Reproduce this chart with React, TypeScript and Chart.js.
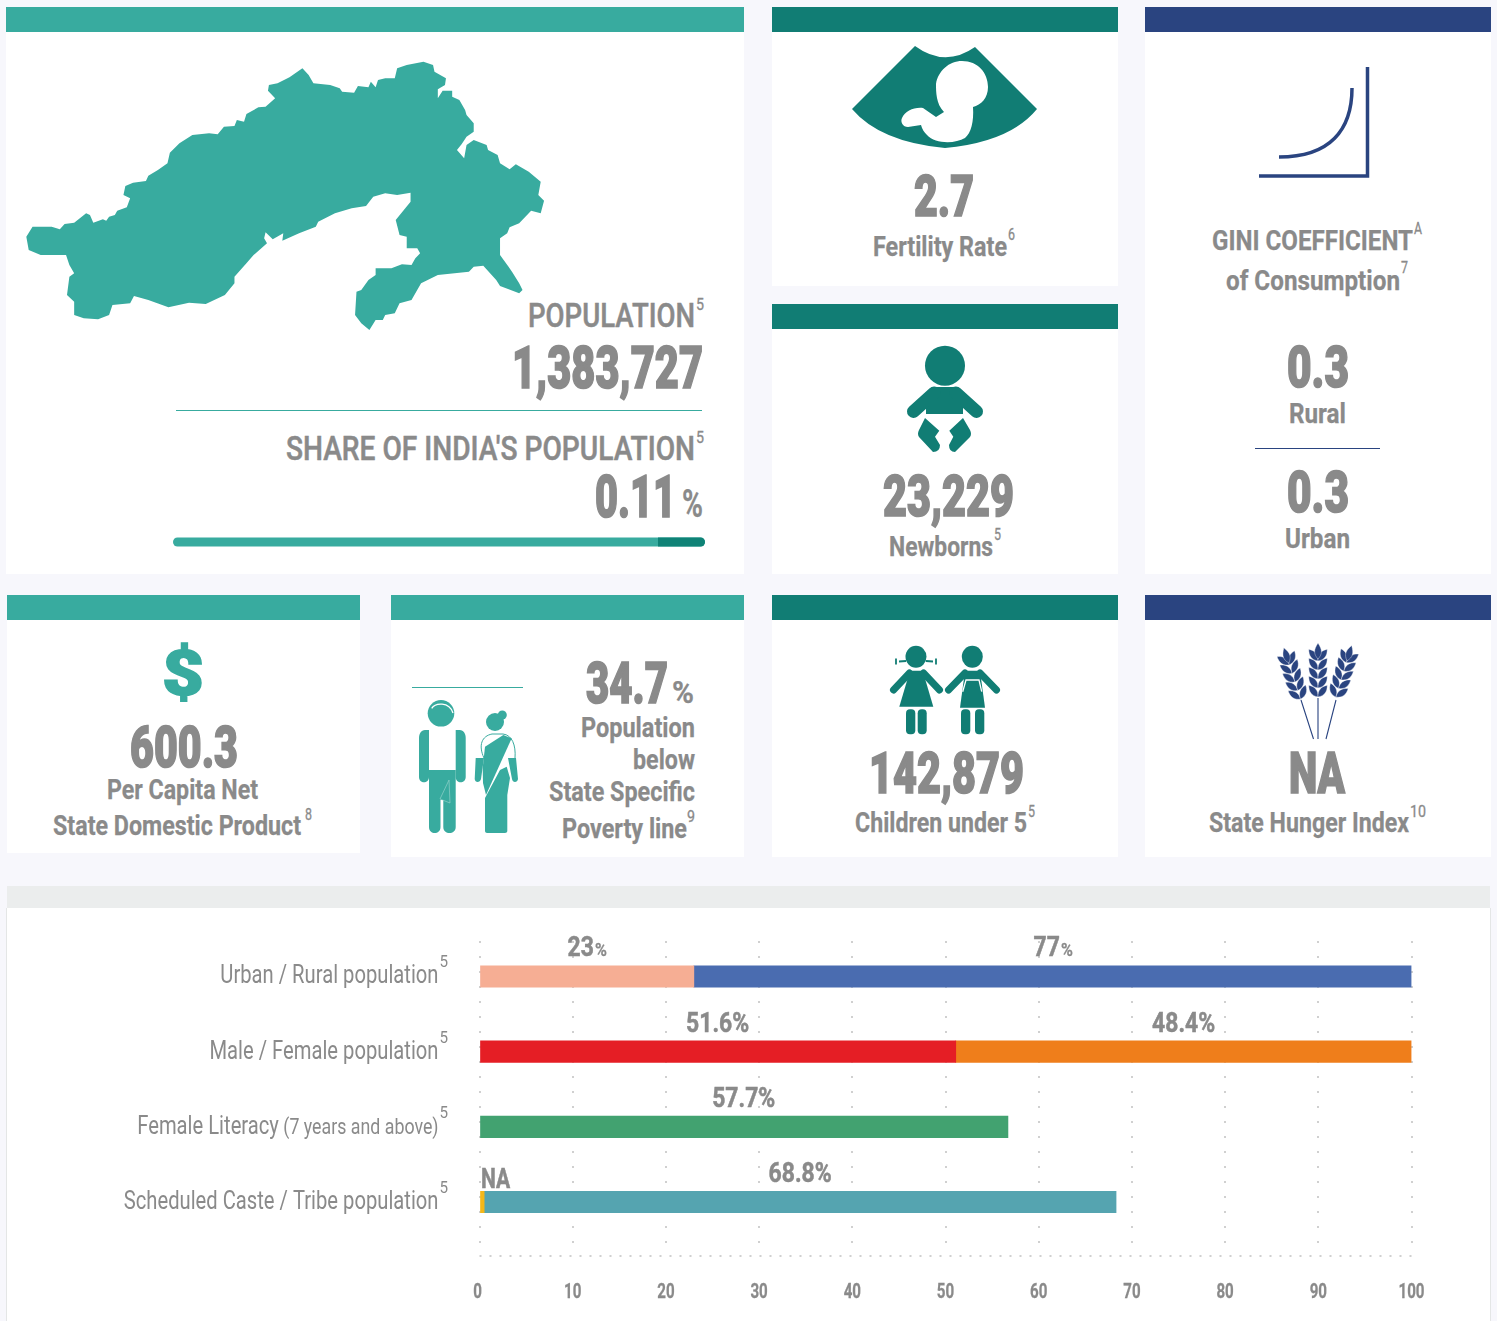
import React, { useEffect, useRef } from "react";
import { Chart, registerables } from "chart.js";

Chart.register(...registerables);

const categories = ["Urban / Rural population", "Male / Female population", "Female Literacy", "Scheduled Caste / Tribe population"];
const categoryNotes = ["", "", " (7 years and above)", ""];
const firstSegment = [23, 51.1, 56.7, 0.5];
const secondSegment = [77, 48.9, null, 67.8];
const firstColors = ["#f6ae94", "#e51e25", "#42a270", "#f4b718"];
const secondColors = ["#4a6cb0", "#ef7e1b", "#42a270", "#55a4b0"];
const firstLabels = ["23%", "51.6%", "57.7%", "NA"];
const secondLabels = ["77%", "48.4%", "", "68.8%"];
const footnoteMark = "5";
const xTicks = [0, 10, 20, 30, 40, 50, 60, 70, 80, 90, 100];

const TEAL = "#38ab9f";
const DARK = "#117d74";
const NAVY = "#2a4480";
const GREY = "#8a8a8a";
const FONT = "Roboto";

const cards = [
  [6, 7, 738, 567, TEAL, 25], [772, 7, 346, 279, DARK, 25], [772, 304, 346, 270, DARK, 25], [1145, 7, 346, 567, NAVY, 25],
  [7, 595, 353, 258, TEAL, 25], [391, 595, 353, 262, TEAL, 25], [772, 595, 346, 262, DARK, 25], [1145, 595, 346, 262, NAVY, 25],
  [7, 886, 1483, 435, "#ebeded", 22],
];

// text, left, right, baseline, size, weight
const texts: [string, number, number, number, number, number][] = [
  ["POPULATION", 528, 695, 327, 33, 500], ["5", 696, 704, 310, 16, 400],
  ["1,383,727", 512, 703, 388, 60, 900],
  ["SHARE OF INDIA'S POPULATION", 286, 695, 460, 33, 500], ["5", 696, 704, 443, 16, 400],
  ["0.11", 595, 676, 517, 60, 900], ["%", 682, 703, 517, 38, 700],
  ["2.7", 914, 974, 216, 58, 900], ["Fertility Rate", 873, 1007, 256, 28, 700], ["6", 1008, 1015, 240, 16, 400],
  ["23,229", 883, 1014, 516, 58, 900], ["Newborns", 889, 993, 556, 28, 700], ["5", 994, 1001, 540, 16, 400],
  ["GINI COEFFICIENT", 1212, 1413, 250, 28, 700], ["A", 1414, 1422, 234, 16, 400],
  ["of Consumption", 1226, 1400, 290, 28, 700], ["7", 1401, 1408, 273, 16, 400],
  ["0.3", 1287, 1349, 387, 58, 900], ["Rural", 1289, 1346, 423, 28, 700],
  ["0.3", 1287, 1349, 512, 58, 900], ["Urban", 1285, 1350, 548, 28, 700],
  ["600.3", 130, 238, 767, 58, 900], ["Per Capita Net", 107, 258, 799, 28, 700],
  ["State Domestic Product", 53, 301, 835, 28, 700], ["8", 305, 312, 820, 16, 400],
  ["34.7", 586, 668, 703, 58, 900], ["%", 672, 694, 703, 32, 700],
  ["Population", 581, 695, 737, 28, 700], ["below", 633, 695, 769, 28, 700],
  ["State Specific", 549, 695, 801, 28, 700], ["Poverty line", 562, 687, 838, 28, 700], ["9", 687, 695, 822, 16, 400],
  ["142,879", 869, 1024, 793, 58, 900], ["Children under 5", 855, 1027, 832, 28, 700], ["5", 1028, 1035, 817, 16, 400],
  ["NA", 1289, 1345, 793, 58, 900], ["State Hunger Index", 1209, 1409, 832, 28, 700], ["10", 1410, 1426, 817, 16, 400],
];

const strokeFor: Record<number, number> = { 900: 1.7, 700: 0.25, 500: 0.5, 400: 0.3 };

const mapOutline = "55,710 68,680 108,680 125,688 135,672 155,668 180,640 188,645 195,668 215,658 222,662 228,650 240,645 245,632 265,622 272,595 258,585 262,558 278,548 305,543 310,527 330,510 350,490 355,458 375,430 402,405 437,400 455,403 468,380 490,378 495,360 510,365 515,342 540,322 555,320 575,295 560,272 562,255 580,250 605,232 632,205 645,225 655,250 690,255 710,265 715,275 740,278 748,258 770,262 775,245 785,262 790,240 805,235 825,235 830,205 850,195 885,185 905,195 908,215 932,235 930,255 915,268 915,295 925,272 945,272 945,290 960,300 972,330 975,345 990,370 990,395 975,410 965,432 955,450 970,475 975,435 990,420 1017,435 1020,450 1040,465 1045,490 1065,508 1078,493 1105,515 1130,545 1125,585 1137,602 1130,640 1110,632 1085,670 1065,682 1060,700 1045,715 1045,765 1070,815 1085,850 1092,870 1085,880 1045,858 1037,840 1010,797 990,800 980,815 915,825 880,850 860,900 835,910 825,940 805,945 800,960 785,960 772,990 755,970 742,945 745,875 755,870 770,840 785,825 785,805 818,805 840,793 860,795 868,775 878,760 872,745 850,745 850,710 835,705 827,660 858,605 858,578 830,585 805,580 780,590 765,618 735,625 700,640 665,665 660,680 625,700 590,722 592,700 570,718 555,697 552,715 558,730 530,765 515,790 490,830 490,850 470,885 430,912 395,908 352,922 310,900 280,888 272,910 235,915 228,945 205,958 175,955 155,945 155,905 140,885 145,830 155,820 145,795 138,765 85,765 60,750";

function Ear({ x, y, angle }: { x: number; y: number; angle: number }) {
  const leaf = "M0 0 C-4.5 -5 -4 -10 0 -15 C4 -10 4.5 -5 0 0Z";
  const steps = [3, 12, 21, 30, 39];
  return (
    <g transform={`translate(${x} ${y}) rotate(${angle})`} fill={NAVY} stroke="#fff" strokeWidth={0.35}>
      {steps.map((d) => (
        <g key={d}>
          <path d={leaf} transform={`translate(0 ${-d}) rotate(-38)`} />
          <path d={leaf} transform={`translate(0 ${-d}) rotate(38)`} />
        </g>
      ))}
      <path d="M0 -57 C4.5 -50 4.5 -46 0 -41 C-4.5 -46 -4.5 -50 0 -57Z" />
    </g>
  );
}

function Icons() {
  return (
    <g>
      <g transform="scale(0.4785 0.3333)"><polygon points={mapOutline} fill={TEAL} /></g>
      <line x1={176} x2={702} y1={410.5} y2={410.5} stroke={TEAL} />
      <rect x={173} y={537.5} width={532} height={9} rx={4.5} fill={TEAL} />
      <path d="M658 537.5 H700.5 A4.5 4.5 0 0 1 700.5 546.5 H658Z" fill="#0f8276" />

      <path d="M915 46 Q945 68 975 47 L1037 109 Q1010 142 945 148 Q880 142 852 109Z" fill={DARK} />
      <path d="M962 61 C978 61 988 73 988 87 C988 98 981 105 973 107 C974 122 971 133 965 138 C955 144 935 144 927 135 C924 132 922 129 921 125 L908 127 C903 127 900 122 902 118 C905 111 914 107 923 108 L936 117 L944 112 C936 104 936 92 936 84 C938 71 949 61 962 61Z" fill="#fff" />

      <circle cx={945} cy={365.7} r={20} fill={DARK} />
      <path d="M933 387 H957 Q959 387 961 390 L963 400 V414 H926 V400 L929 390 Q931 387 933 387Z" fill={DARK} />
      <line x1={934} y1={393} x2={913.5} y2={411.5} stroke={DARK} strokeWidth={13} strokeLinecap="round" />
      <line x1={956} y1={393} x2={976.5} y2={411.5} stroke={DARK} strokeWidth={13} strokeLinecap="round" />
      <path d="M925 418 L939.3 430.7 L935 436.7 L940 445 Q940 452 933 452 L919 437 Q917 434 919 430Z" fill={DARK} />
      <path d="M963 418 L949.3 430.7 L953.3 436.7 L949 445 Q949 452 955 452 L970 437 Q972 434 970 430Z" fill={DARK} />

      <path d="M1367.5 67 V176 H1259" fill="none" stroke={NAVY} strokeWidth={3.5} />
      <path d="M1279 157 C1330 157 1352 130 1352 88" fill="none" stroke={NAVY} strokeWidth={3.5} />
      <line x1={1255} x2={1380} y1={448.5} y2={448.5} stroke={NAVY} />

      <text x={162} y={695} fontFamily={FONT} fontWeight={900} fontSize={63} textLength={42} lengthAdjust="spacingAndGlyphs" fill={TEAL} stroke={TEAL} strokeWidth={1.5}>$</text>

      <line x1={412} x2={523} y1={687.5} y2={687.5} stroke={TEAL} />
      <circle cx={441} cy={713.3} r={13.3} fill={TEAL} />
      <path d="M431.7 708.3 C435 703 449 701 453 713" stroke="#fff" strokeWidth={1.3} fill="none" />
      <path d="M429 730 H425 C421 730 419 734 419 738 V777 C419 784 429 784 429 777Z M455.7 730 H459.7 C463.7 730 465.7 734 465.7 738 V777 C465.7 784 455.7 784 455.7 777Z" fill={TEAL} />
      <path d="M429 770 H455.7 L455.7 827 C455.7 835 443.3 835 443.3 827 V800 H440.5 V827 C440.5 835 429 835 429 827Z" fill={TEAL} />
      <path d="M449 780 L440 799 L450 803Z" fill="none" stroke="#9fd7d0" strokeWidth={0.6} />
      <circle cx={495} cy={722} r={9} fill={TEAL} />
      <circle cx={502.3} cy={715} r={4.5} fill={TEAL} />
      <path d="M484 758 C478 745 482 736 492 734 H503 C512 735 516 745 515 758" fill="none" stroke={TEAL} strokeWidth={1} />
      <path d="M485 746.7 L503.3 735 L511.7 738.3 L486 795 L483 783 L482.7 768Z" fill={TEAL} />
      <path d="M475.7 758 H484 L481 779 C480 783 475 783 474.7 779Z M508 758 H516 L518 779 C517.5 783 512.5 783 512 779Z" fill={TEAL} />
      <path d="M500 770 L506.7 766.7 L510 778 L507.3 795 V831 C507.3 832 506.3 833 505 833 H487 C486 833 485 832 485 831 V798Z" fill={TEAL} />

      <g fill={DARK} stroke={DARK}>
        <ellipse cx={916} cy={656.7} rx={10.5} ry={11} stroke="none" />
        <path d="M906 661 L899 661.5 M926 661 L933 661.5 M896 658.5 V664.5 M936 658.5 V664.5" strokeWidth={1.8} fill="none" />
        <path d="M910 670.7 H922.7 L933.3 706.7 H899.3Z" stroke="none" />
        <path d="M909.5 673 L893.5 690 M923.5 673 L939.5 690" strokeWidth={7} strokeLinecap="round" />
        <rect x={906} y={709.3} width={9.3} height={25} rx={4} stroke="none" />
        <rect x={917.7} y={709.3} width={9} height={25} rx={4} stroke="none" />
        <ellipse cx={972.3} cy={656.7} rx={10.5} ry={11} stroke="none" />
        <path d="M965 670.7 H980 L985 707.7 H960Z" stroke="none" />
        <path d="M965 673 L948.5 690 M980 673 L996.5 690" strokeWidth={7} strokeLinecap="round" />
        <rect x={961} y={709.3} width={9.3} height={25} rx={4} stroke="none" />
        <rect x={975} y={709.3} width={9.3} height={25} rx={4} stroke="none" />
      </g>
      <path d="M962.7 691.7 L966 680 H979 L981.7 691.7" fill="none" stroke="#fff" strokeWidth={1.3} />

      <Ear x={1318} y={700} angle={0} />
      <Ear x={1301.5} y={702} angle={-18} />
      <Ear x={1335} y={700} angle={17} />
      <path d="M1318 698 V739 M1301 700 L1313.5 739 M1336 700 L1326 739" stroke={NAVY} strokeWidth={1.1} fill="none" />
    </g>
  );
}

function squeezed(ctx: any, text: string, x: number, y: number, align: string, font: string, stretch: number, stroke = 0) {
  ctx.save();
  ctx.font = font;
  ctx.textAlign = align;
  ctx.translate(x, y);
  ctx.scale(stretch, 1);
  ctx.fillText(text, 0, 0);
  if (stroke) {
    ctx.lineWidth = stroke;
    ctx.strokeStyle = GREY;
    ctx.strokeText(text, 0, 0);
  }
  ctx.restore();
}

const LABEL_FONT = `25px ${FONT}`;
const NOTE_FONT = `22px ${FONT}`;
const VALUE_FONT = `bold 27px ${FONT}`;
const PCT_FONT = `bold 19px ${FONT}`;
const LABEL_STRETCH = 0.808;
const VALUE_STRETCH = 0.85;

export default function App() {
  const ref = useRef<HTMLCanvasElement>(null);
  useEffect(() => {
    document.body.style.margin = "0";
    const paintLabels = {
      id: "paintLabels",
      beforeDatasetsDraw(chart: any) {
        const { ctx, chartArea } = chart;
        ctx.save();
        ctx.strokeStyle = "#d0d0d0";
        ctx.lineWidth = 2;
        ctx.setLineDash([2, 8]);
        ctx.beginPath();
        ctx.moveTo(chartArea.left, chartArea.bottom);
        ctx.lineTo(chartArea.right, chartArea.bottom);
        ctx.stroke();
        ctx.restore();
      },
      afterDraw(chart: any) {
        const { ctx, scales } = chart;
        const { x, y } = scales;
        ctx.save();
        ctx.fillStyle = GREY;
        ctx.textBaseline = "alphabetic";
        x.ticks.forEach((t: any) => {
          squeezed(ctx, String(t.value), x.getPixelForValue(t.value) - (t.value === 0 ? 2 : 0), chart.chartArea.bottom + 42, "center", `bold 21px ${FONT}`, 0.72, 0.3);
        });
        const right = x.getPixelForValue(0) - 41;
        categories.forEach((name: string, i: number) => {
          const cy = y.getPixelForValue(i);
          let edge = right;
          const note = categoryNotes[i];
          if (note) {
            squeezed(ctx, note, edge, cy + 7, "right", NOTE_FONT, LABEL_STRETCH);
            ctx.font = NOTE_FONT;
            edge -= ctx.measureText(note).width * LABEL_STRETCH;
          }
          squeezed(ctx, name, edge, cy + 7, "right", LABEL_FONT, LABEL_STRETCH);
          squeezed(ctx, footnoteMark, right + 1, cy - 9, "left", `16px ${FONT}`, 0.95);

          const s0 = x.getPixelForValue(0);
          const s1 = x.getPixelForValue(firstSegment[i]);
          const s2 = secondSegment[i] == null ? s1 : x.getPixelForValue(firstSegment[i] + (secondSegment[i] as number));
          const put = (label: string, center: number) => {
            if (!label) return;
            const small = i === 0;
            const main = small ? label.slice(0, -1) : label;
            ctx.font = VALUE_FONT;
            const w = ctx.measureText(main).width * VALUE_STRETCH;
            ctx.font = PCT_FONT;
            const pw = small ? ctx.measureText("%").width * VALUE_STRETCH : 0;
            const start = center - (w + pw) / 2;
            squeezed(ctx, main, start, cy - 20, "left", VALUE_FONT, VALUE_STRETCH, 0.5);
            if (small) squeezed(ctx, "%", start + w + 1, cy - 20, "left", PCT_FONT, VALUE_STRETCH, 0.3);
          };
          if (firstLabels[i] === "NA") {
            squeezed(ctx, "NA", s0 + 1.5, cy - 14, "left", VALUE_FONT, 0.78, 0.5);
          } else {
            put(firstLabels[i], (s0 + s1) / 2);
          }
          put(secondLabels[i], (s1 + s2) / 2);
        });
        ctx.restore();
      },
    };
    const chart = new Chart(ref.current as HTMLCanvasElement, {
      type: "bar",
      data: {
        datasets: [
          { stack: "a", data: firstSegment.map((v, i) => ({ x: v, y: i })), backgroundColor: firstColors, barThickness: 21.5 },
          { stack: "a", data: secondSegment.map((v, i) => ({ x: v, y: i })), backgroundColor: secondColors, barThickness: 21.5 },
        ],
      } as any,
      options: {
        indexAxis: "y",
        animation: false,
        responsive: false,
        devicePixelRatio: 1,
        layout: { padding: { top: 33, right: 78.5, bottom: 0, left: 0 } },
        plugins: { legend: { display: false }, tooltip: { enabled: false }, title: { display: false } },
        scales: {
          x: {
            type: "linear",
            stacked: true,
            min: 0,
            max: 100,
            afterBuildTicks: (s: any) => { s.ticks = xTicks.map((value) => ({ value })); },
            afterFit: (s: any) => { s.height = 65; },
            grid: { color: "#d0d0d0", lineWidth: 2, drawTicks: false },
            border: { display: false, dash: [2, 13] },
            ticks: { display: false },
          },
          y: {
            type: "linear",
            offset: false,
            reverse: true,
            min: -0.472,
            max: 3.718,
            afterBuildTicks: (s: any) => { s.ticks = categories.map((_, value) => ({ value })); },
            afterFit: (s: any) => { s.width = 472.5; },
            grid: { display: false, offset: false },
            border: { display: false },
            ticks: { display: false },
          },
        },
      } as any,
      plugins: [paintLabels],
    });
    return () => chart.destroy();
  }, []);

  return (
    <div style={{ position: "absolute", left: 0, top: 0, width: 1497, height: 1321, overflow: "hidden", background: "#f7f7fc" }}>
      {cards.map(([x, y, w, h, c, hh], i) => (
        <div key={i} style={{ position: "absolute", left: x as number, top: y as number, width: w as number, height: h as number, background: "#fff" }}>
          <div style={{ height: hh as number, background: c as string }} />
        </div>
      ))}
      <div style={{ position: "absolute", left: 6, top: 908, width: 1, height: 413, background: "#e4e6e6" }} />
      <div style={{ position: "absolute", left: 1490, top: 908, width: 1, height: 413, background: "#e4e6e6" }} />
      <svg width={1497} height={1321} style={{ position: "absolute", left: 0, top: 0 }}>
        <Icons />
        {texts.map(([t, a, b, base, size, weight], i) => (
          <text key={i} x={a} y={base} fontFamily={FONT} fontSize={size} fontWeight={weight} fill={GREY} stroke={GREY} strokeWidth={strokeFor[weight]} textLength={b - a} lengthAdjust="spacingAndGlyphs">{t}</text>
        ))}
      </svg>
      <canvas ref={ref} width={1483} height={413} style={{ position: "absolute", left: 7, top: 908, width: 1483, height: 413 }} />
    </div>
  );
}
